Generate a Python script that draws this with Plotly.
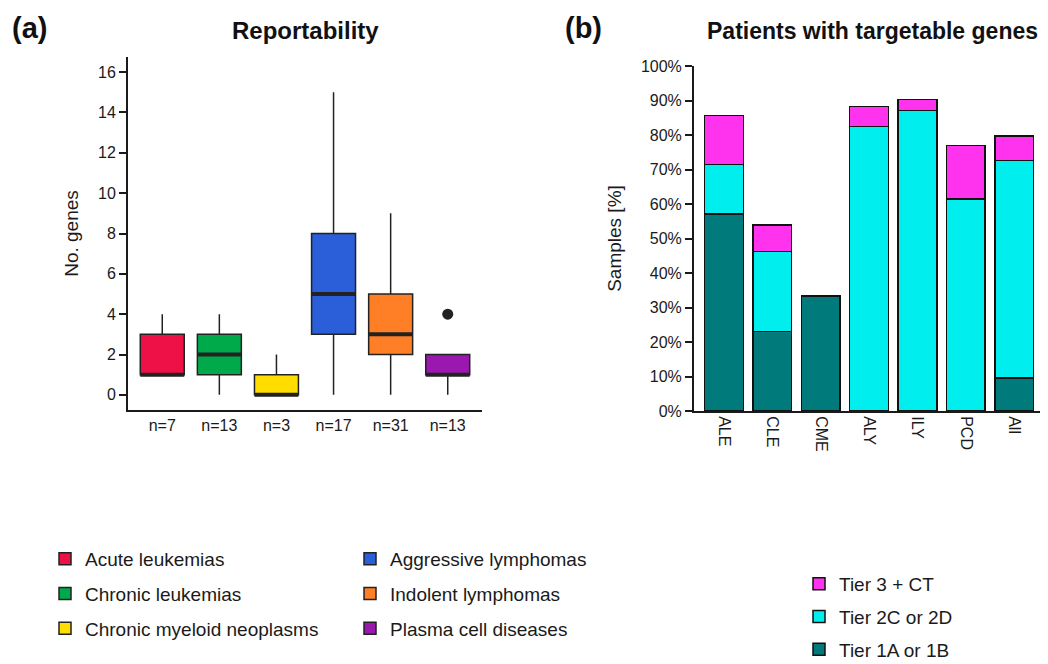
import plotly.graph_objects as go

# ---------------- data ----------------
groups = ["Acute leukemias", "Chronic leukemias", "Chronic myeloid neoplasms",
          "Aggressive lymphomas", "Indolent lymphomas", "Plasma cell diseases"]
n_labels = ["n=7", "n=13", "n=3", "n=17", "n=31", "n=13"]
q1 = [1, 1, 0, 3, 2, 1]
median = [1, 2, 0, 5, 3, 1]
q3 = [3, 3, 1, 8, 5, 2]
lowerfence = [1, 0, 0, 0, 0, 0]
upperfence = [4, 4, 2, 15, 9, 2]
outlier_group = [5]
outlier_value = [4]
box_colors = ["#EE1148", "#00A94A", "#FFDD00", "#2A5FD9", "#FF7F27", "#9A18B0"]
legend_of_group = ["legend", "legend", "legend", "legend2", "legend2", "legend2"]

bar_cats = ["ALE", "CLE", "CME", "ALY", "ILY", "PCD", "All"]
tier1 = [57.1, 23.1, 33.3, 0, 0, 0, 9.5]
tier2 = [14.3, 23.1, 0, 82.4, 87.1, 61.5, 63.1]
tier3 = [14.3, 7.7, 0, 5.9, 3.2, 15.4, 7.1]
tier_names = ["Tier 1A or 1B", "Tier 2C or 2D", "Tier 3 + CT"]
tier_colors = ["#007A7A", "#00EEEE", "#FF33EE"]

# ---------------- figure ----------------
OFF = 8                      # page body margin
W, H = 1048 - OFF, 664 - OFF
FONT = "Liberation Sans, Arial, sans-serif"
INK = "#1a1a1a"
BOXW = 0.77


def px(p):
    return (p - OFF) / W


def py(p):
    return 1 - (p - OFF) / H


fig = go.Figure()

for i, g in enumerate(groups):
    fig.add_trace(go.Box(
        x=[i], q1=[q1[i]], median=[median[i]], q3=[q3[i]],
        lowerfence=[lowerfence[i]], upperfence=[upperfence[i]],
        name=g, width=BOXW, whiskerwidth=0, boxpoints=False,
        fillcolor=box_colors[i], line=dict(color="#222222", width=1.5),
        xaxis="x", yaxis="y", legend=legend_of_group[i], legendgroup=g,
        hoverinfo="skip",
    ))

# thick median lines
mx, my = [], []
for i, m in enumerate(median):
    mx += [i - BOXW / 2, i + BOXW / 2, None]
    my += [m, m, None]
fig.add_trace(go.Scatter(x=mx, y=my, mode="lines", line=dict(color="#222222", width=4),
                         showlegend=False, hoverinfo="skip", xaxis="x", yaxis="y"))

fig.add_trace(go.Scatter(x=outlier_group, y=outlier_value, mode="markers",
                         marker=dict(color="#222222", size=11), showlegend=False,
                         hoverinfo="skip", xaxis="x", yaxis="y"))

for vals, name, col, rank in zip([tier1, tier2, tier3], tier_names, tier_colors, [3, 2, 1]):
    fig.add_trace(go.Bar(
        x=bar_cats, y=vals, name=name, width=0.8,
        marker=dict(color=col, line=dict(color="#111111", width=1.5)),
        xaxis="x2", yaxis="y2", legend="legend3", legendgroup=name, legendrank=rank,
        hoverinfo="skip",
    ))

axis_common = dict(showline=True, linecolor=INK, linewidth=2, showgrid=False, zeroline=False,
                   tickfont=dict(family=FONT, size=16, color=INK))

legend_common = dict(font=dict(family=FONT, size=19, color=INK), bgcolor="rgba(0,0,0,0)",
                     orientation="v", xanchor="left", yanchor="top", traceorder="grouped")

fig.update_layout(
    width=W, height=H, margin=dict(l=0, r=0, t=0, b=0, autoexpand=False),
    paper_bgcolor="white", plot_bgcolor="white",
    barmode="stack", boxmode="overlay",
    font=dict(family=FONT, color=INK),
    xaxis=dict(domain=[px(128), px(482)], range=[-0.6, 5.6],
               tickvals=list(range(len(n_labels))), ticktext=n_labels,
               ticks="", **axis_common),
    yaxis=dict(domain=[py(410), py(57)], range=[-0.75, 16.75],
               tickvals=[0, 2, 4, 6, 8, 10, 12, 14, 16], ticks="outside", ticklen=7, tickwidth=2,
               tickcolor=INK,
               title=dict(text="No. genes", font=dict(family=FONT, size=19, color=INK), standoff=14),
               **axis_common),
    xaxis2=dict(domain=[px(694), 1.0], range=[-0.62, 6.7], type="category",
                ticks="", tickangle=90, anchor="y2", **axis_common),
    yaxis2=dict(domain=[py(411), py(66)], range=[0, 100], dtick=10, ticksuffix="%",
                ticks="outside", ticklen=7, tickwidth=2, tickcolor=INK, anchor="x2",
                title=dict(text="Samples [%]", font=dict(family=FONT, size=19, color=INK), standoff=14),
                **axis_common),
    legend=dict(x=px(45), y=py(540), tracegroupgap=7, **legend_common),
    legend2=dict(x=px(350), y=py(540), tracegroupgap=7, **legend_common),
    legend3=dict(x=px(799), y=py(565), tracegroupgap=5, **legend_common),
)

annos = [
    dict(text="<b>(a)</b>", x=px(10), y=py(28), xanchor="left", size=29),
    dict(text="<b>Reportability</b>", x=px(305), y=py(31), xanchor="center", size=24),
    dict(text="<b>(b)</b>", x=px(563), y=py(28), xanchor="left", size=29),
    dict(text="<b>Patients with targetable genes</b>", x=px(872), y=py(31), xanchor="center", size=23),
]
for a in annos:
    fig.add_annotation(text=a["text"], x=a["x"], y=a["y"], xref="paper", yref="paper",
                       xanchor=a["xanchor"], yanchor="middle", showarrow=False,
                       font=dict(family=FONT, size=a["size"], color="#111111"))

fig.write_html("out.html")
